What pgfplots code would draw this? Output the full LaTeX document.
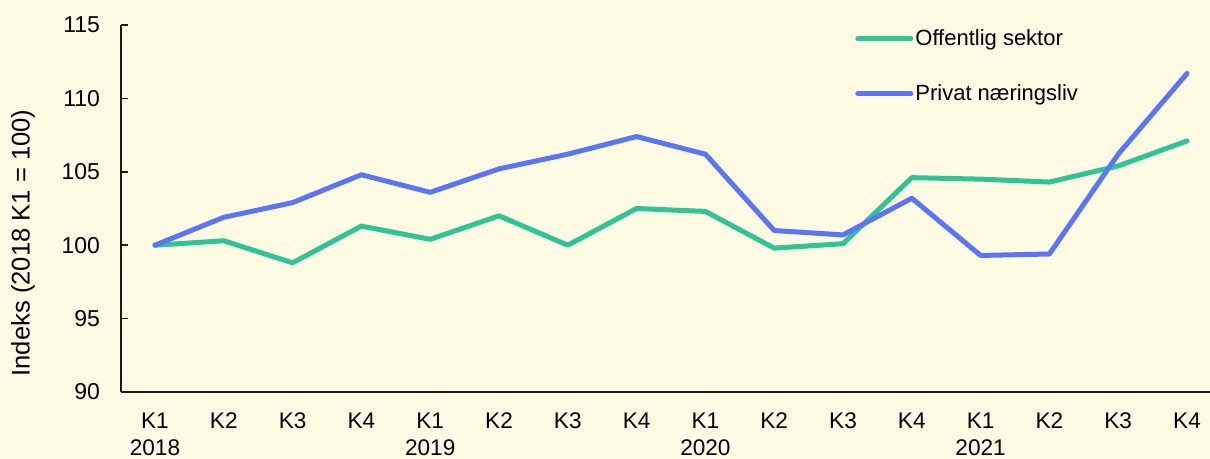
\documentclass[border=0pt]{standalone}
\usepackage{fontspec}
\setmainfont{Liberation Sans}
\usepackage{pgfplots}
\pgfplotsset{compat=1.18}
\definecolor{bgc}{RGB}{254,250,228}
\definecolor{gr}{RGB}{46,196,150}
\definecolor{bl}{RGB}{91,117,248}
\begin{document}
\begin{tikzpicture}
\fill[bgc] (-60.5pt,-33.5pt) rectangle (544.5pt,196pt);
\begin{axis}[
  at={(0,0)}, anchor=south west,
  scale only axis, width=544.5pt, height=183.5pt,
  xmin=-0.494, xmax=15.334, ymin=90, ymax=115,
  axis x line=bottom, axis y line=left,
  axis line style={-, line width=0.9pt, black!90},
  ytick={90,95,...,115},
  ytick align=inside, major tick length=3.5pt,
  y tick style={line width=0.8pt, black!90},
  x tick style={draw=none},
  xtick={0,...,15},
  xticklabels={{K1\\2018},K2,K3,K4,{K1\\2019},K2,K3,K4,{K1\\2020},K2,K3,K4,{K1\\2021},K2,K3,K4},
  xticklabel style={align=center, anchor=north, yshift=-5pt, font=\fontsize{11.3}{13.5}\selectfont},
  yticklabel style={font=\fontsize{11.5}{13}\selectfont, xshift=-7pt},
  /pgf/number format/assume math mode=true,
  ylabel={Indeks (2018 K1 = 100)},
  ylabel style={at={(axis description cs:-0.09,0.406)}, rotate=0, anchor=center, font=\fontsize{12.8}{14}\selectfont},
  clip=false,
  legend style={draw=none, fill=none, at={(axis description cs:0.674,0.995)}, anchor=north west,
    font=\fontsize{11}{13}\selectfont, row sep=16pt, inner sep=0pt,
    nodes={inner sep=1pt}},
  legend cell align=left,
  legend image code/.code={\draw[#1] (0pt,0pt) -- (26.5pt,0pt);},
  every axis plot/.append style={line width=2.5pt, line join=round, line cap=round},
]
\addplot[gr] coordinates {(0,100) (1,100.3) (2,98.8) (3,101.3) (4,100.4) (5,102.0) (6,100.0) (7,102.5) (8,102.3) (9,99.8) (10,100.1) (11,104.6) (12,104.5) (13,104.3) (14,105.4) (15,107.1)};
\addlegendentry{Offentlig sektor}
\addplot[bl] coordinates {(0,100) (1,101.9) (2,102.9) (3,104.8) (4,103.6) (5,105.2) (6,106.2) (7,107.4) (8,106.2) (9,101.0) (10,100.7) (11,103.2) (12,99.3) (13,99.4) (14,106.2) (15,111.7)};
\addlegendentry{Privat næringsliv}
\end{axis}
\pgfresetboundingbox
\useasboundingbox (-60.5pt,-33.5pt) rectangle (544.5pt,196pt);
\end{tikzpicture}
\end{document}
